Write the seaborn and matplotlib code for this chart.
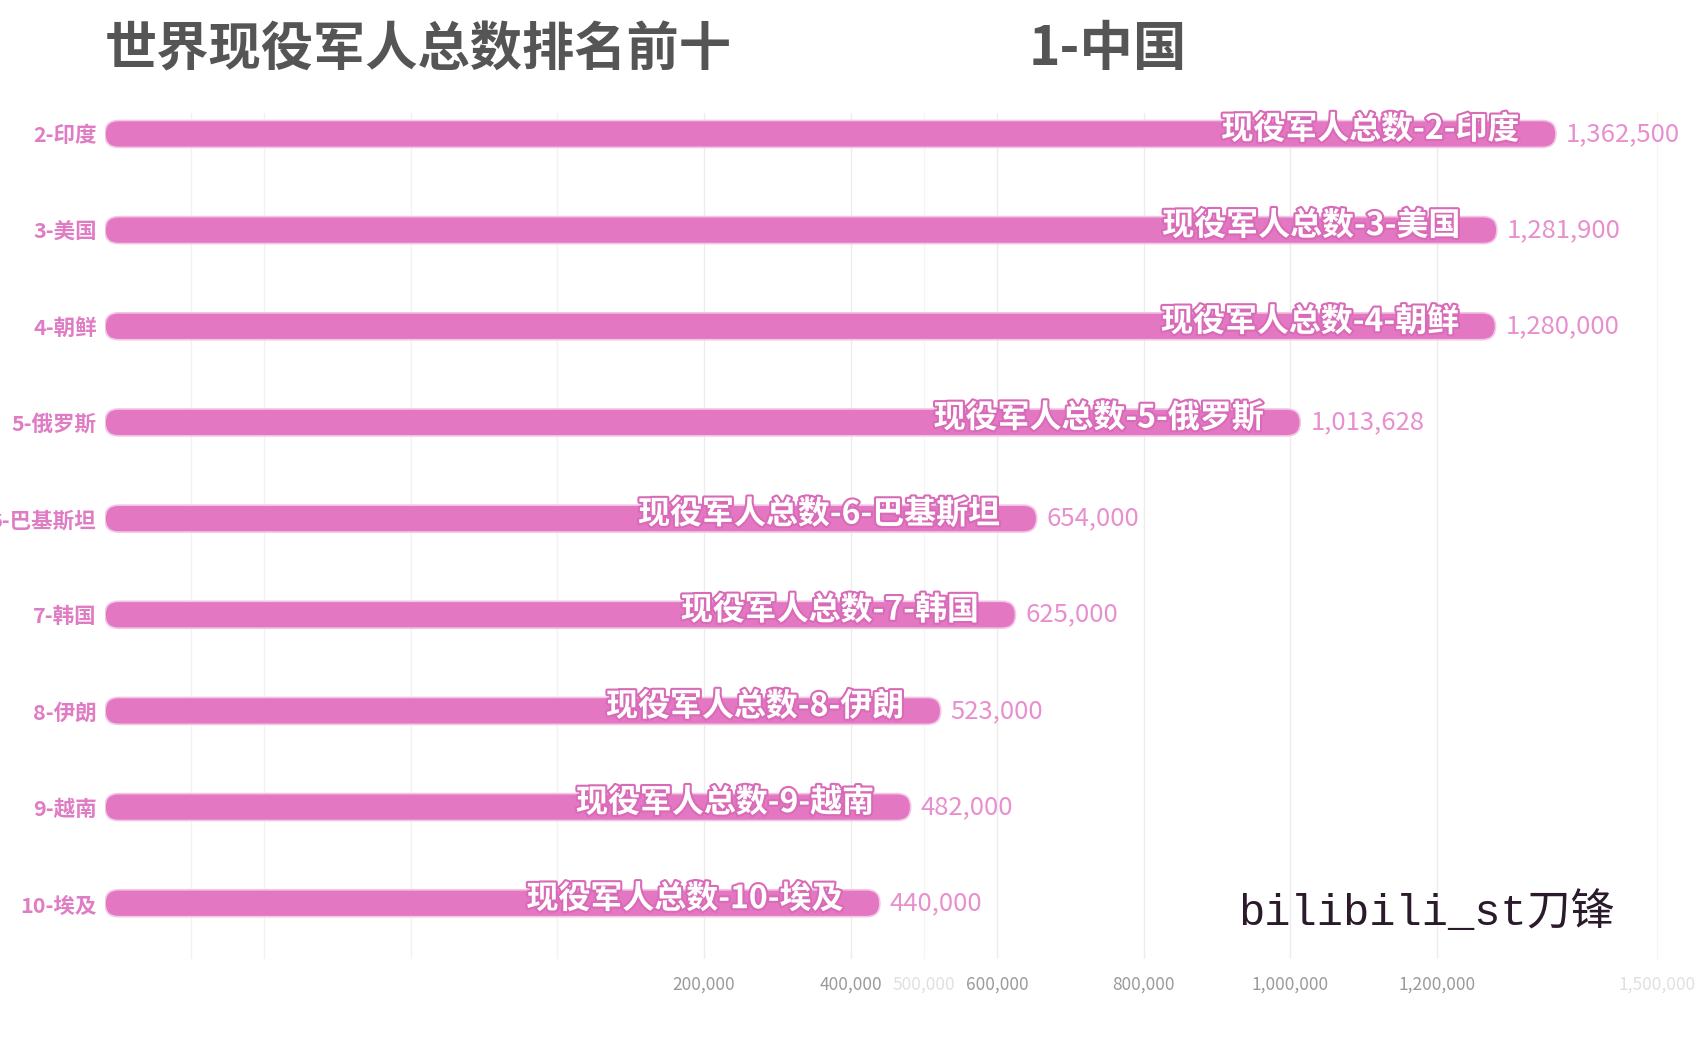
import numpy as np
import pandas as pd
import matplotlib
matplotlib.use("Agg")
import matplotlib.pyplot as plt
import seaborn as sns
from matplotlib.patches import FancyBboxPatch
import matplotlib.patheffects as pe

# ---------------- data ----------------
ranks = ["2", "3", "4", "5", "6", "7", "8", "9", "10"]
countries = ["印度", "美国", "朝鲜", "俄罗斯", "巴基斯坦", "韩国", "伊朗", "越南", "埃及"]
values = [1362500, 1281900, 1280000, 1013628, 654000, 625000, 523000, 482000, 440000]
title_text = "世界现役军人总数排名前十"
leader_text = "1-中国"
watermark = "bilibili_st刀锋"
tick_values = [200000, 400000, 500000, 600000, 800000, 1000000, 1200000, 1500000]
faded_ticks = [500000, 1500000]
ghost_grid = [-500000, -400000, -200000, 0]

labels = [f"{r}-{c}" for r, c in zip(ranks, countries)]
df = pd.DataFrame({"label": labels, "value": values})

PINK = "#e377c2"
W, H, DPI = 1699, 1062, 100

sns.set_theme(style="white")
plt.rcParams["font.family"] = ["Noto Sans CJK SC", "DejaVu Sans"]

fig = plt.figure(figsize=(W / DPI, H / DPI), dpi=DPI)
ax_l, ax_r, ax_t, ax_b = 105, 1699, 113, 959
ax = fig.add_axes([ax_l / W, 1 - ax_b / H, (ax_r - ax_l) / W, (ax_b - ax_t) / H])

bar_h = 0.28
sns.barplot(data=df, x="value", y="label", orient="h", color=PINK,
            width=bar_h, ax=ax, saturation=1)

xmin, xmax = -617300, 1557600
ax.set_xlim(xmin, xmax)
ax.set_ylim(8.58, -0.218)

# pixel scales
x_per_px = (xmax - xmin) / (ax_r - ax_l)
y_per_px = (8.58 + 0.218) / (ax_b - ax_t)

# replace rectangles with rounded bars starting at the axis left edge
rects = list(ax.patches)
for p in rects:
    y0 = p.get_y()
    h = p.get_height()
    v = p.get_width()
    p.remove()
    h_px = h / y_per_px
    r = h_px / 2 * x_per_px
    fb = FancyBboxPatch((xmin, y0), v - xmin, h,
                        boxstyle=f"round,pad=0,rounding_size={r}",
                        mutation_aspect=y_per_px / x_per_px,
                        facecolor=PINK, edgecolor="#f4c6e6", linewidth=1.2,
                        zorder=3)
    ax.add_patch(fb)

# grid lines
for g in ghost_grid:
    ax.axvline(g, color="#f2f2f2", lw=1, zorder=0)
for t in tick_values:
    ax.axvline(t, color="#ececec" if t not in faded_ticks else "#f5f5f5", lw=1, zorder=0)

ax.set_xticks(tick_values)
ax.set_xticklabels([f"{t:,}" for t in tick_values], fontsize=12.5)
for lbl, t in zip(ax.get_xticklabels(), tick_values):
    lbl.set_color("#e0e0e0" if t in faded_ticks else "#9a9a9a")
ax.tick_params(axis="x", length=0, pad=12)

ax.set_yticks(range(len(labels)))
ax.set_yticklabels(labels, fontsize=15.5, fontweight="bold", color="#e07cc4")
ax.tick_params(axis="y", length=0, pad=6)
ax.set_xlabel("")
ax.set_ylabel("")
for s in ax.spines.values():
    s.set_visible(False)

# labels on bars
for i, (lab, v) in enumerate(zip(labels, values)):
    ax.annotate(f"现役军人总数-{lab}", xy=(v, i), xytext=(-36, 4),
                textcoords="offset pixels", ha="right", va="center",
                fontsize=23, fontweight="bold", color="white", zorder=5,
                path_effects=[pe.withStroke(linewidth=3, foreground="#d86ab8")])
    ax.annotate(f"{v:,}", xy=(v, i), xytext=(10, 0),
                textcoords="offset pixels", ha="left", va="center",
                fontsize=18.5, color="#e88fcd", zorder=5)

# titles
fig.text(105 / W, 1 - 50 / H, title_text, fontsize=37.6, fontweight="bold",
         color="#555555", ha="left", va="center")
fig.text(1029 / W, 1 - 50 / H, leader_text, fontsize=38.5, fontweight="bold",
         color="#555555", ha="left", va="center")

# watermark
fig.text(1238 / W, 1 - 913 / H, watermark, fontsize=31.5,
         family=["Liberation Mono", "Noto Sans CJK SC"],
         color="#2b1a2b", ha="left", va="center")

fig.savefig("out.png", dpi=DPI, facecolor="white")
